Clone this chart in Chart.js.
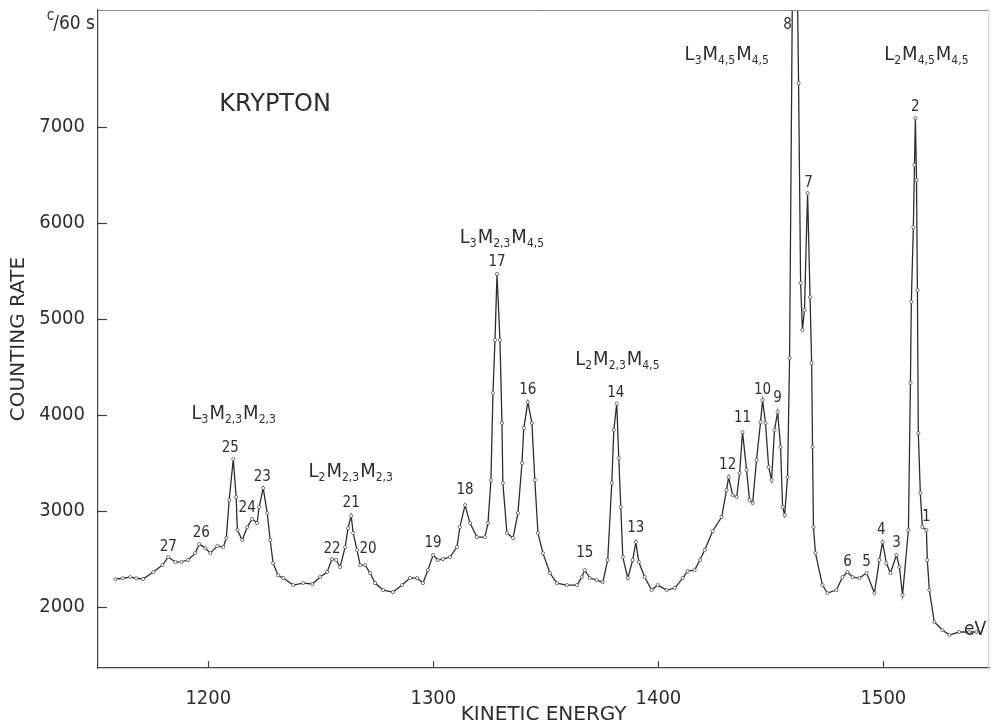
<!DOCTYPE html>
<html>
<head>
<meta charset="utf-8">
<script src="https://cdn.jsdelivr.net/npm/chart.js@4.4.0/dist/chart.umd.min.js"></script>
<style>
  html, body { margin: 0; padding: 0; background: #fff; }
</style>
</head>
<body>
<canvas id="kryptonChart" width="994" height="727"></canvas>
<script>
// ESPECTRO AUGER DO KRYPTON - contagens por 60 s x energia cinetica (eV)
const energy = [
  1158.7, 1162, 1165.4, 1168, 1171, 1175.6, 1179.6, 1182.2, 1185.4, 1188, 1191, 1194.2, 1196, 1198.7,
  1200.9, 1204, 1206.7, 1208, 1209.3, 1211.1, 1212.4, 1212.9, 1215.1, 1217.3, 1219.5, 1221.7, 1222.6,
  1224.4, 1226.2, 1227.5, 1228.8, 1231, 1233.3, 1237.7, 1242.2, 1246.2, 1249.7, 1252.8, 1255, 1256.8,
  1258.6, 1260.8, 1262.1, 1263.5, 1264.4, 1266.1, 1267.5, 1269.7, 1271.9, 1274.1, 1277.7, 1282.1,
  1286.1, 1289.6, 1292.8, 1295.4, 1297.6, 1299.9, 1302, 1304.3, 1307.4, 1310.5, 1311.8, 1314.1, 1316.3,
  1319.4, 1322.9, 1324.3, 1325.6, 1326.5, 1327.4, 1328.3, 1329.6, 1330.5, 1330.9, 1332.7, 1335.4,
  1337.6, 1339.4, 1340.2, 1342, 1343.8, 1345.1, 1346.5, 1348.7, 1351.8, 1354.9, 1359.3, 1363.8, 1366,
  1367.3, 1369.5, 1372.6, 1375.3, 1377.5, 1379.3, 1380.2, 1381.5, 1382.4, 1383.3, 1384.2, 1386.4,
  1388.6, 1390, 1391.3, 1393.9, 1397, 1399.7, 1403.7, 1407.3, 1410.8, 1413, 1416.1, 1418.5, 1420.6,
  1424.1, 1428.1, 1430.3, 1431.2, 1433, 1434.8, 1436.1, 1437.4, 1439.2, 1440.5, 1441.9, 1443.6, 1445.4,
  1446.3, 1447.6, 1449, 1450.3, 1451.6, 1453, 1454.3, 1455.2, 1456.1, 1457.4, 1458.3, 1460.4, 1462.3,
  1463.2, 1464.0, 1464.9, 1466.3, 1467.4, 1468.1, 1468.5, 1468.9, 1469.8, 1472.9, 1475.1, 1479.1,
  1481.8, 1484, 1486.3, 1489.3, 1492.5, 1496, 1498.2, 1499.6, 1501.3, 1503.1, 1505.8, 1507.1, 1508.5,
  1511.1, 1512, 1512.4, 1513.3, 1513.8, 1514.2, 1514.7, 1515.1, 1515.5, 1516.4, 1517.3, 1519.1, 1519.5,
  1520.4, 1522.6, 1526.2, 1529.3, 1533.7, 1538.2, 1541.3
];
const counts = [
  2290, 2300, 2312, 2300, 2292, 2365, 2437, 2521, 2469, 2470, 2490, 2562, 2656, 2614,
  2562, 2635, 2625, 2719, 3115, 3540, 3146, 2802, 2698, 2833, 2917, 2875, 3042,
  3240, 2979, 2698, 2458, 2330, 2302, 2229, 2250, 2240, 2312, 2365, 2500, 2490,
  2417, 2625, 2823, 2950, 2771, 2594, 2437, 2437, 2354, 2250, 2177, 2156,
  2229, 2302, 2302, 2250, 2385, 2542, 2490, 2500, 2521, 2625, 2833, 3062, 2875,
  2729, 2729, 2875, 3323, 4229, 4781, 5470, 4781, 3917, 3292, 2771, 2719,
  2979, 3500, 3865, 4135, 3917, 3323, 2771, 2562, 2354, 2250, 2229, 2229, 2312,
  2385, 2302, 2281, 2260, 2490, 3292, 3844, 4120, 3552, 3042, 2521, 2302,
  2490, 2677, 2469, 2312, 2177, 2229, 2177, 2198, 2302, 2375, 2385, 2490, 2594,
  2790, 2938, 3219, 3354, 3167, 3146, 3396, 3823, 3427, 3115, 3083, 3531, 3927,
  4156, 3917, 3458, 3323, 3844, 4031, 3667, 3042, 2958, 3354, 4594, 11000, 7458,
  5375, 4885, 5094, 6313, 5229, 4542, 3667, 2833, 2562, 2229, 2146, 2177,
  2312, 2365, 2312, 2302, 2354, 2146, 2490, 2677, 2458, 2354, 2542, 2417, 2125,
  2802, 4333, 5180, 5958, 6604, 7094, 6448, 5300, 3813, 3187, 2833, 2802, 2490,
  2177, 1844, 1760, 1708, 1740, 1740, 1740
];

const xTicks = [1200, 1300, 1400, 1500];
const yTicks = [2000, 3000, 4000, 5000, 6000, 7000];

// numeros dos picos (posicao do rotulo em eV / contagens)
const peakNames = ['27', '26', '25', '24', '23', '22', '21', '20', '19', '18', '17', '16', '15', '14',
  '13', '12', '11', '10', '9', '8', '7', '6', '5', '4', '3', '2', '1'];
const peakE = [1182.2, 1196.9, 1209.8, 1217.3, 1224, 1255, 1263.5, 1271, 1299.9, 1314.1, 1328.3, 1342,
  1367.3, 1381.1, 1390, 1430.8, 1437.4, 1446.3, 1453, 1457.4, 1466.7, 1484, 1492.5, 1499.1, 1505.8,
  1514.2, 1519.1];
const peakC = [2625, 2771, 3656, 3031, 3354, 2604, 3083, 2604, 2667, 3219, 5594, 4260, 2562, 4229,
  2823, 3479, 3969, 4260, 4177, 8063, 6417, 2469, 2469, 2802, 2667, 7208, 2938];

// grupos de transicao: [letra, indice]
const groupParts = [
  [['L', '3'], ['M', '2,3'], ['M', '2,3']],
  [['L', '2'], ['M', '2,3'], ['M', '2,3']],
  [['L', '3'], ['M', '2,3'], ['M', '4,5']],
  [['L', '2'], ['M', '2,3'], ['M', '4,5']],
  [['L', '3'], ['M', '4,5'], ['M', '4,5']],
  [['L', '2'], ['M', '4,5'], ['M', '4,5']]
];
const groupE = [1211.5, 1263.5, 1330.7, 1382, 1430.6, 1519.3];
const groupC = [3958, 3354, 5792, 4521, 7698, 7698];

const narrow = '"Liberation Sans Narrow", "DejaVu Sans Condensed", "Arial Narrow", sans-serif';
const ink = '#2e2e2e';

function drawGroup(ctx, parts, cx, baseY) {
  const big = '20px ' + narrow;
  const small = '12px ' + narrow;
  let total = 0;
  parts.forEach(p => {
    ctx.font = big; total += ctx.measureText(p[0]).width;
    ctx.font = small; total += ctx.measureText(p[1]).width + 1;
  });
  let px = cx - total / 2;
  ctx.textAlign = 'left';
  ctx.textBaseline = 'alphabetic';
  parts.forEach(p => {
    ctx.font = big; ctx.fillText(p[0], px, baseY); px += ctx.measureText(p[0]).width;
    ctx.font = small; ctx.fillText(p[1], px, baseY + 4); px += ctx.measureText(p[1]).width + 1;
  });
}

const annotations = {
  id: 'annotations',
  afterDatasetsDraw(chart) {
    const { ctx, chartArea: a, scales: { x, y } } = chart;
    ctx.save();
    // moldura de cima e da direita
    ctx.lineWidth = 1;
    ctx.strokeStyle = '#8a8a8a';
    ctx.beginPath(); ctx.moveTo(a.left, a.top + 0.5); ctx.lineTo(a.right, a.top + 0.5); ctx.stroke();
    ctx.strokeStyle = '#d0d0d0';
    ctx.beginPath(); ctx.moveTo(a.right - 0.5, a.top); ctx.lineTo(a.right - 0.5, a.bottom); ctx.stroke();

    // marcas dos eixos para dentro
    ctx.strokeStyle = '#444';
    ctx.lineWidth = 1.2;
    yTicks.forEach(v => {
      const py = Math.round(y.getPixelForValue(v)) + 0.5;
      ctx.beginPath(); ctx.moveTo(a.left, py); ctx.lineTo(a.left + 9, py); ctx.stroke();
    });
    xTicks.forEach(v => {
      const px = Math.round(x.getPixelForValue(v)) + 0.5;
      ctx.beginPath(); ctx.moveTo(px, a.bottom); ctx.lineTo(px, a.bottom - 7); ctx.stroke();
    });

    ctx.fillStyle = ink;
    // numeros dos picos
    ctx.font = '15px ' + narrow;
    ctx.textAlign = 'center';
    ctx.textBaseline = 'middle';
    peakNames.forEach((n, i) => {
      ctx.fillText(n, x.getPixelForValue(peakE[i]), y.getPixelForValue(peakC[i]));
    });

    // rotulos L M M
    groupParts.forEach((parts, i) => {
      drawGroup(ctx, parts, x.getPixelForValue(groupE[i]), y.getPixelForValue(groupC[i]));
    });

    // nome do elemento
    ctx.font = '24px "DejaVu Sans", sans-serif';
    ctx.textAlign = 'center';
    ctx.textBaseline = 'alphabetic';
    ctx.fillText('KRYPTON', x.getPixelForValue(1229.7), y.getPixelForValue(7167));

    // unidades
    ctx.font = '19px ' + narrow;
    ctx.textAlign = 'right';
    ctx.fillText('eV', a.right - 3, a.bottom - 33);
    ctx.font = '19px ' + narrow;
    ctx.fillText('/60 s', a.left - 3, a.top + 19);
    const w = ctx.measureText('/60 s').width;
    ctx.font = '15px ' + narrow;
    ctx.fillText('c', a.left - 2 - w, a.top + 10);
    ctx.restore();
  }
};

const points = energy.map((e, i) => ({ x: e, y: counts[i] }));

new Chart(document.getElementById('kryptonChart'), {
  type: 'line',
  data: {
    datasets: [{
      data: points,
      borderColor: ink,
      borderWidth: 1.3,
      tension: 0,
      pointRadius: 1.6,
      pointBorderWidth: 0.8,
      pointBorderColor: '#555',
      pointBackgroundColor: '#fff'
    }]
  },
  options: {
    responsive: false,
    animation: false,
    layout: { padding: { top: 10, right: 4, left: 0, bottom: 0 } },
    plugins: {
      legend: { display: false },
      tooltip: { enabled: false }
    },
    scales: {
      x: {
        type: 'linear',
        min: 1151,
        max: 1547,
        grid: { display: false },
        border: { display: true, color: '#444', width: 1.2 },
        afterBuildTicks: s => { s.ticks = xTicks.map(v => ({ value: v })); },
        afterFit: s => { s.height = 59; s.paddingLeft = 0; s.paddingRight = 0; },
        ticks: {
          color: ink,
          padding: 11,
          maxRotation: 0,
          autoSkip: false,
          callback: v => String(v),
          font: { family: narrow, size: 20 }
        },
        title: {
          display: true,
          text: 'KINETIC ENERGY',
          color: ink,
          padding: { top: 0, bottom: 0 },
          font: { family: '"DejaVu Sans", sans-serif', size: 20 }
        }
      },
      y: {
        min: 1365,
        max: 8220,
        grid: { display: false },
        border: { display: true, color: '#444', width: 1.2 },
        afterBuildTicks: s => { s.ticks = yTicks.map(v => ({ value: v })); },
        afterFit: s => { s.width = 98; s.paddingTop = 0; s.paddingBottom = 0; },
        ticks: {
          color: ink,
          padding: 5,
          callback: v => String(v),
          font: { family: narrow, size: 20 }
        },
        title: {
          display: true,
          text: 'COUNTING RATE',
          color: ink,
          padding: { top: 7, bottom: 0 },
          font: { family: '"DejaVu Sans", sans-serif', size: 20 }
        }
      }
    }
  },
  plugins: [annotations]
});
</script>
</body>
</html>
